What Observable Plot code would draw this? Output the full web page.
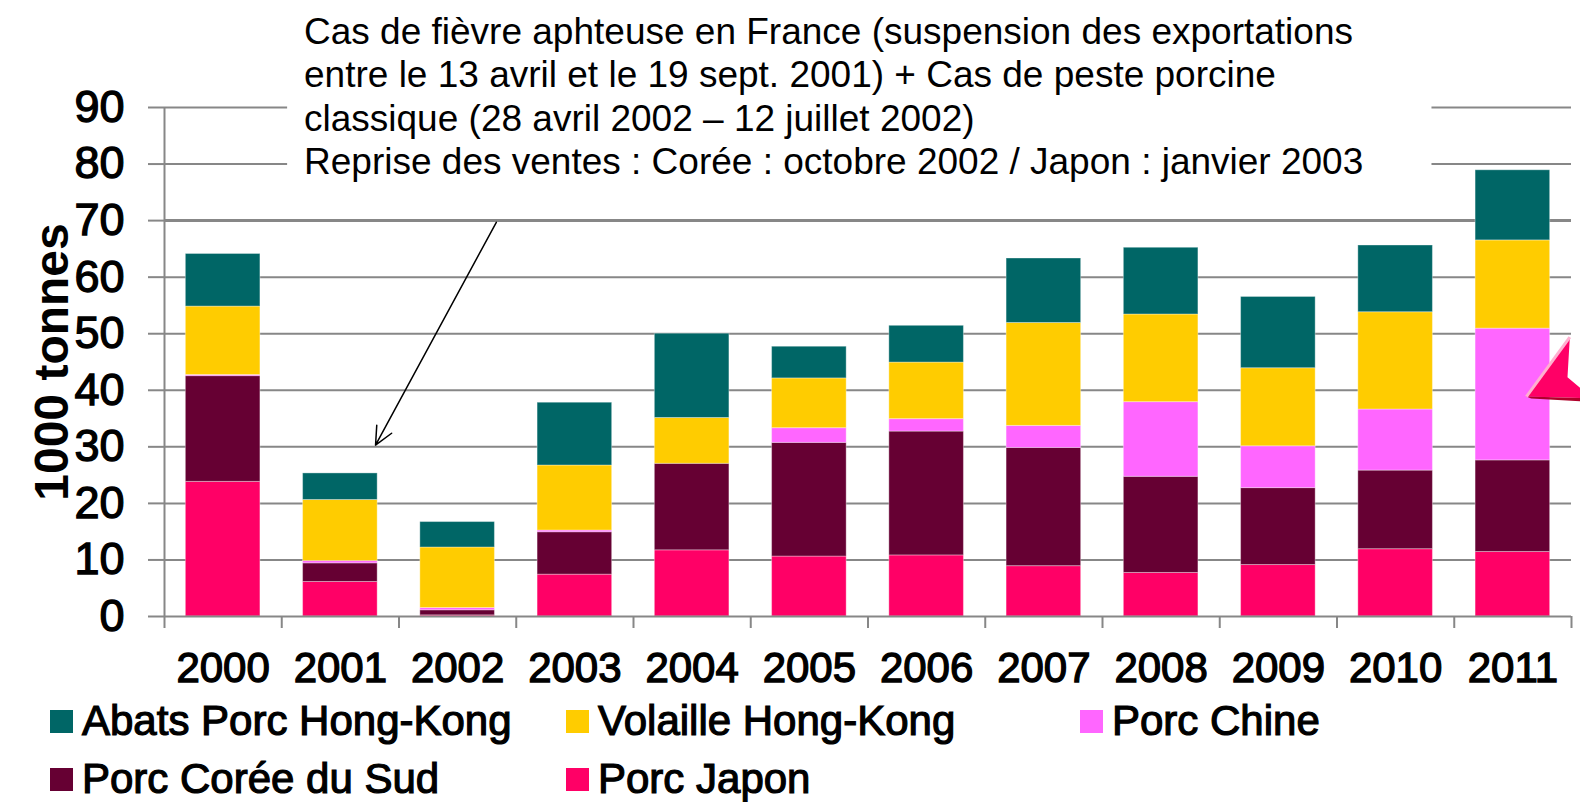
<!DOCTYPE html>
<html><head><meta charset="utf-8">
<script src="https://cdn.jsdelivr.net/npm/d3@7"></script>
<script src="https://cdn.jsdelivr.net/npm/@observablehq/plot@0.6"></script>
<style>
body{margin:0;background:#fff;}
#wrap{position:relative;width:1580px;height:802px;overflow:hidden;font-family:"Liberation Sans",Arial,sans-serif;background:#fff;}
#chart{position:absolute;left:0;top:0;}
#chart g[aria-label="y-axis tick label"] text, #chart g[aria-label="x-axis tick label"] text{stroke:#000;stroke-width:1.3px;}
.leg{position:absolute;display:flex;align-items:center;font-weight:normal;font-size:42px;color:#000;white-space:nowrap;line-height:50px;height:50px;-webkit-text-stroke:1.2px #000;}
.sw{width:23px;height:23px;margin-right:9px;flex:none;}
</style></head><body><div id="wrap"><div id="chart"></div></div>
<script>
// ---- data (1000 tonnes) ----
const years = [2000,2001,2002,2003,2004,2005,2006,2007,2008,2009,2010,2011];
const seriesNames = ["Porc Japon","Porc Corée du Sud","Porc Chine","Volaille Hong-Kong","Abats Porc Hong-Kong"];
const porcJapon   = [23.8, 6.1, 0.2, 7.4, 11.7, 10.6, 10.8,  8.9,  7.7,  9.1, 11.9, 11.4];
const porcCoree   = [18.7, 3.3, 0.9, 7.5, 15.3, 20.1, 21.9, 20.9, 17.0, 13.6, 13.9, 16.2];
const porcChine   = [ 0.2, 0.4, 0.4, 0.3,  0.0,  2.6,  2.2,  3.9, 13.2,  7.4, 10.8, 23.3];
const volailleHK  = [12.1,10.8,10.7,11.5,  8.1,  8.8, 10.0, 18.2, 15.5, 13.8, 17.2, 15.6];
const abatsHK     = [ 9.3, 4.7, 4.5,11.1, 14.9,  5.6,  6.5, 11.4, 11.8, 12.6, 11.8, 12.4];
const seriesColors = ["#FF0066","#660033","#FF66FF","#FFCC00","#006666"];
const yTicks = [0,10,20,30,40,50,60,70,80,90];
const yLabel = "1000 tonnes";
const legendOrder = [
  ["Abats Porc Hong-Kong","Volaille Hong-Kong","Porc Chine"],
  ["Porc Corée du Sud","Porc Japon"]
];
const noteLines = [
  "Cas de fièvre aphteuse en France (suspension des exportations",
  "entre le 13 avril et le 19 sept. 2001) + Cas de peste porcine",
  "classique (28 avril 2002 – 12 juillet 2002)",
  "Reprise des ventes : Corée : octobre 2002 / Japon : janvier 2003"
];

// ---- build stacked table ----
const seriesValues = [porcJapon, porcCoree, porcChine, volailleHK, abatsHK];
const rows = [];
years.forEach((yr, i) => {
  let base = 0;
  seriesValues.forEach((vals, s) => {
    rows.push({year: yr, series: seriesNames[s], y1: base, y2: base + vals[i]});
    base += vals[i];
  });
});
const half = 0.318;
const boundaries = d3.range(years[0] - 0.5, years[years.length-1] + 0.51, 1);

const font = "Liberation Sans, Arial, sans-serif";
const grid = "#878787";

const plot = Plot.plot({
  width: 1580, height: 690,
  marginLeft: 164, marginRight: 9, marginTop: 107, marginBottom: 74,
  style: {fontFamily: font, background: "transparent", overflow: "visible"},
  x: {domain: [years[0] - 0.5, years[years.length-1] + 0.5]},
  y: {domain: [0, 90]},
  color: {domain: seriesNames, range: seriesColors},
  marks: [
    Plot.gridY({ticks: yTicks.filter(d => d !== 70 && d !== 0), stroke: grid, strokeOpacity: 1, strokeWidth: 2}),
    Plot.ruleY([70], {stroke: grid, strokeWidth: 3}),
    // white box behind the annotation
    Plot.rect([{a: 2000.55, b: 2010.31, c: 71.8, d: 110}], {x1: "a", x2: "b", y1: "c", y2: "d", fill: "white"}),
    Plot.rect(rows, {x1: d => d.year - half, x2: d => d.year + half, y1: "y1", y2: "y2", fill: "series", stroke: "white", strokeOpacity: 0.35, strokeWidth: 1}),
    Plot.ruleX([years[0] - 0.5], {y1: 0, y2: 90, stroke: grid, strokeWidth: 2}),
    Plot.ruleY([0], {stroke: grid, strokeWidth: 2}),
    Plot.axisY({ticks: yTicks, tickSize: 16, tickPadding: 24, fontSize: 45, stroke: grid, strokeWidth: 2, fill: "black", label: null}),
    Plot.axisX({ticks: boundaries, tickSize: 12, tickFormat: () => "", stroke: grid, strokeWidth: 2, label: null}),
    Plot.axisX({ticks: years, tickSize: 0, tickPadding: 36, fontSize: 42, fill: "black", tickFormat: d => String(d), label: null}),
    Plot.text([yLabel], {frameAnchor: "left", textAnchor: "middle", rotate: -90, dx: -112, fontSize: 48, fontWeight: "bold", fill: "black"}),
    Plot.text([noteLines.join("\n")], {x: () => 2000.69, y: () => 106.7, textAnchor: "start", lineAnchor: "top", lineHeight: 1.175, fontSize: 37, fill: "black"}),
    Plot.arrow([{a: 2002.33, b: 69.7, c: 2001.30, d: 30.3}], {x1: "a", y1: "b", x2: "c", y2: "d", stroke: "black", strokeWidth: 1.5, headLength: 20, headAngle: 50})
  ]
});
document.getElementById("chart").appendChild(plot);

// decorative pink 3D arrow shape at right edge (converted through the plot scales)
const sx = plot.scale("x"), sy = plot.scale("y");
const X = v => sx.apply(v), Y = v => sy.apply(v);
const svg = d3.select(plot);
const shape = [[2011.12, 38.8],[2011.49, 49.3],[2011.47, 42.2],[2011.64, 39.3],[2011.64, 38.5]];
svg.append("path").attr("d", "M" + shape.map(p => [X(p[0]), Y(p[1])].join(",")).join("L") + "Z").attr("fill", "#FF0066");
const edge = [[2011.12, 38.8],[2011.64, 38.5],[2011.64, 37.9],[2011.16, 38.45]];
svg.append("path").attr("d", "M" + edge.map(p => [X(p[0]), Y(p[1])].join(",")).join("L") + "Z").attr("fill", "#B0002A");
const hl = [[2011.12, 38.8],[2011.49, 49.3]];
svg.append("path").attr("d", "M" + hl.map(p => [X(p[0]), Y(p[1])].join(",")).join("L")).attr("stroke", "#FFB0D0").attr("stroke-width", 3).attr("fill", "none");

// ---- legend ----
const wrap = document.getElementById("wrap");
const colX = [[50, 566, 1080], [50, 566]];
const rowY = [721, 779];
legendOrder.forEach((row, r) => {
  row.forEach((name, c) => {
    const el = document.createElement("div");
    el.className = "leg";
    el.style.left = colX[r][c] + "px";
    el.style.top = (rowY[r] - 25) + "px";
    const sw = document.createElement("div");
    sw.className = "sw";
    sw.style.background = seriesColors[seriesNames.indexOf(name)];
    el.appendChild(sw);
    const t = document.createElement("span");
    t.textContent = name;
    el.appendChild(t);
    wrap.appendChild(el);
  });
});
</script>
</body></html>
